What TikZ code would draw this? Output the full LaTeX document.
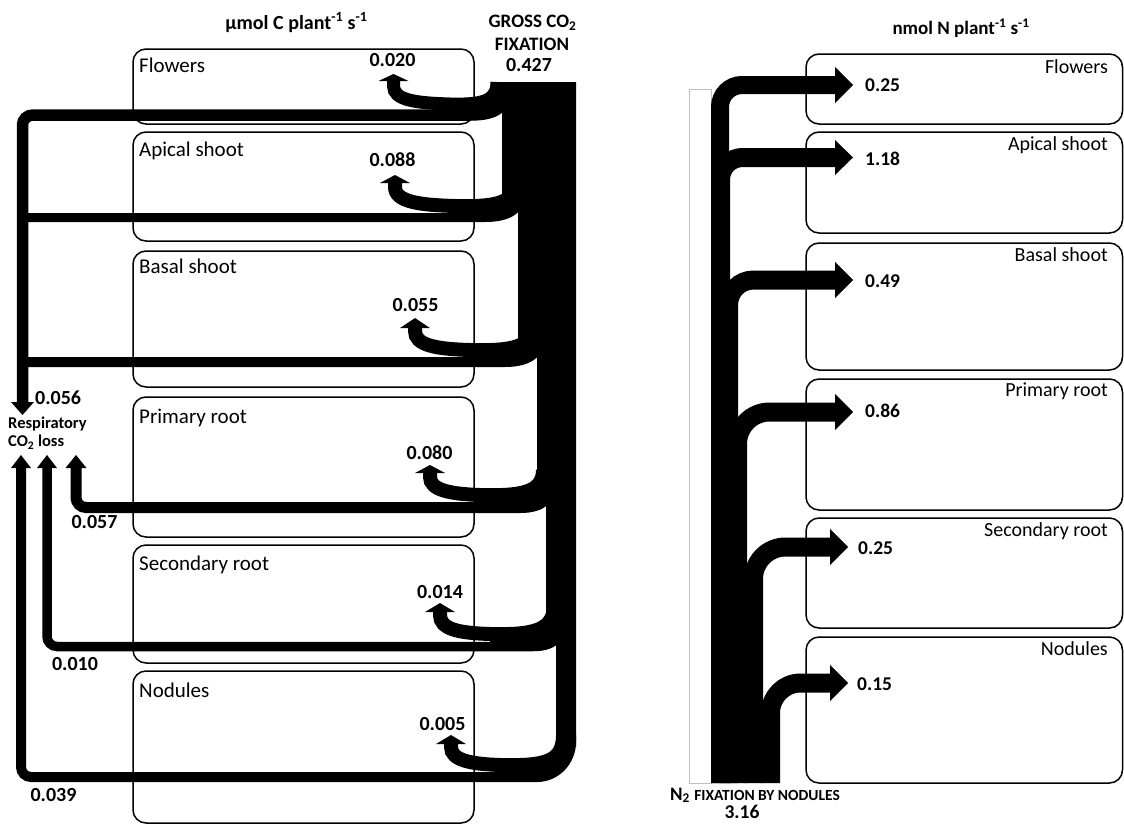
\documentclass[tikz,border=0pt]{standalone}
\usepackage{fontspec}
\setmainfont{Carlito}
\begin{document}
\begin{tikzpicture}[x=1pt,y=-1pt,
  box/.style={draw, line width=1.5pt, rounded corners=13pt, inner sep=0pt, outer sep=0pt, anchor=north west},
  lbl/.style={font=\fontsize{21}{25}\selectfont, inner sep=0pt, anchor=base west},
  rlbl/.style={font=\fontsize{20}{24}\selectfont, inner sep=0pt, anchor=base east},
  val/.style={font=\bfseries\fontsize{20}{24}\selectfont, inner sep=0pt, anchor=base},
  rval/.style={font=\bfseries\fontsize{19.5}{23}\selectfont, inner sep=0pt, anchor=base west},
  small/.style={font=\bfseries\fontsize{16.5}{20}\selectfont, inner sep=0pt, anchor=base west},
  ttl/.style={font=\bfseries\fontsize{19}{23}\selectfont, inner sep=0pt, anchor=base},
  fl/.style={line width=#1}
]
\useasboundingbox (0,0) rectangle (1124,825);
\clip (0,0) rectangle (1124,825);

% ---------------- LEFT PANEL: boxes ----------------
\node[box, minimum width=341pt, minimum height=75pt]  (lFl) at (133,49)  {};
\node[box, minimum width=341pt, minimum height=109pt] (lAp) at (133,132) {};
\node[box, minimum width=341pt, minimum height=136pt] (lBa) at (133,251) {};
\node[box, minimum width=341pt, minimum height=140pt] (lPr) at (133,397) {};
\node[box, minimum width=341pt, minimum height=118pt] (lSe) at (133,545) {};
\node[box, minimum width=341pt, minimum height=152pt] (lNo) at (133,671) {};

% trunk
\fill (502,82) -- (576,82) -- (576,747) -- (556,747) -- (556,637) -- (546,637) -- (546,500)
  -- (537,500) -- (537,343) -- (518,343) -- (518,197) -- (502,197) -- cycle;

% flowers
\draw[fl=13pt] (393.5,80) -- (393.5,86) .. controls (393.5,100) and (415,103) .. (450,104) .. controls (485,105) and (497,100) .. (497,82);
\fill (450,104) .. controls (485,105) and (497,100) .. (497,82) -- (507,86) .. controls (507,108) and (495,115) .. (470,115) -- (450,115) -- cycle;
\fill (378.5,81) -- (408.5,81) -- (393.5,74) -- cycle;
\draw[fl=11.5pt] (507,86) .. controls (507,108) and (495,115) .. (470,115) -- (33,115) .. controls (27,115) and (22.5,119.5) .. (22.5,125) -- (22.5,403);
\fill (11,402) -- (34,402) -- (22.5,415) -- cycle;

% apical shoot
\draw[fl=14pt] (395,182) -- (395,187) .. controls (395,202) and (420,205) .. (455,206) .. controls (495,207) and (514,203) .. (514,185);
\fill (455,206) .. controls (495,207) and (514,203) .. (514,185) -- (522,190) .. controls (522,210) and (508,217.5) .. (485,217.5) -- (455,217.5) -- cycle;
\fill (380,183) -- (410,183) -- (395,175) -- cycle;
\draw[fl=9pt] (522,190) .. controls (522,210) and (508,217.5) .. (485,217.5) -- (27,217.5);

% basal shoot
\draw[fl=14pt] (415,327) -- (415,331) .. controls (415,345) and (435,349) .. (470,350) .. controls (510,351) and (535,348) .. (535,322);
\fill (470,350) .. controls (510,351) and (535,348) .. (535,322) -- (543,328) .. controls (543,352) and (530,362) .. (505,362) -- (470,362) -- cycle;
\fill (400,328) -- (430,328) -- (415,318) -- cycle;
\draw[fl=10pt] (543,328) .. controls (543,352) and (530,362) .. (505,362) -- (27,362);

% primary root
\draw[fl=14pt] (430,472) -- (430,477) .. controls (430,490) and (450,494) .. (480,495) .. controls (520,496) and (543,493) .. (543,470);
\fill (480,495) .. controls (520,496) and (543,493) .. (543,470) -- (552,478) .. controls (552,498) and (543,507.5) .. (520,507.5) -- (480,507.5) -- cycle;
\fill (415,473) -- (445,473) -- (430,465) -- cycle;
\draw[fl=11pt] (552,478) .. controls (552,498) and (543,507.5) .. (520,507.5) -- (86,507.5) .. controls (80.5,507.5) and (76,503) .. (76,497.5) -- (76,467);
\fill (65.5,468) -- (86.5,468) -- (76,455) -- cycle;

% secondary root
\draw[fl=14pt] (440,611) -- (440,615) .. controls (440,629) and (458,633) .. (490,634) .. controls (532,635) and (554,631) .. (554,605);
\fill (490,634) .. controls (532,635) and (554,631) .. (554,605) -- (563,618) .. controls (563,638) and (553,646.5) .. (533,646.5) -- (490,646.5) -- cycle;
\fill (425,612) -- (455,612) -- (440,603) -- cycle;
\draw[fl=9.5pt] (563,618) .. controls (563,638) and (553,646.5) .. (533,646.5) -- (57,646.5) .. controls (51.5,646.5) and (47,642) .. (47,636.5) -- (47,467);
\fill (37,468) -- (57,468) -- (47,455) -- cycle;

% nodules
\draw[fl=14pt] (451,743) -- (451,747) .. controls (451,760) and (470,764) .. (500,765) .. controls (545,766) and (563,762) .. (563,735);
\fill (500,765) .. controls (545,766) and (563,762) .. (563,735) -- (571,735) -- (571,742) .. controls (571,761) and (556,777) .. (537,777) -- (500,777) -- cycle;
\fill (436,744) -- (466,744) -- (451,735) -- cycle;
\draw[fl=10pt] (571,735) -- (571,742) .. controls (571,761) and (556,777) .. (537,777) -- (31,777) .. controls (25.5,777) and (21,772.5) .. (21,767) -- (21,467);
\fill (11,468) -- (31,468) -- (21,455) -- cycle;

% left texts
\node[ttl, font=\bfseries\fontsize{20}{24}\selectfont] (lTitle) at (296.5,29) {µmol C plant\textsuperscript{-1} s\textsuperscript{-1}};
\node[ttl] (gross) at (532.5,27.3) {GROSS CO\textsubscript{2}};
\node[ttl] (fix) at (532,50) {FIXATION};
\node[val] (gval) at (529,71.7) {0.427};

\node[lbl] (tFl) at (139,72) {Flowers};
\node[lbl] (tAp) at (139,156) {Apical shoot};
\node[lbl] (tBa) at (139,273) {Basal shoot};
\node[lbl] (tPr) at (139,423) {Primary root};
\node[lbl] (tSe) at (139,570) {Secondary root};
\node[lbl] (tNo) at (139,697) {Nodules};

\node[val] (vFl) at (392.5,66.7) {0.020};
\node[val] (vAp) at (392.5,166.7) {0.088};
\node[val] (vBa) at (415.5,311.7) {0.055};
\node[val] (vPr) at (429.5,459.3) {0.080};
\node[val] (vSe) at (440,598.3) {0.014};
\node[val] (vNo) at (442.5,730) {0.005};

\node[val, anchor=base west] (r056) at (35,404.3) {0.056};
\node[small] (resp1) at (8,428.3) {Respiratory};
\node[small] (resp2) at (8,446.7) {CO\textsubscript{2} loss};
\node[val] (r057) at (94.5,528.3) {0.057};
\node[val] (r010) at (75,670) {0.010};
\node[val] (r039) at (53.5,801) {0.039};

% ---------------- RIGHT PANEL ----------------
\node[box, minimum width=316.5pt, minimum height=70pt]  (rFl) at (806,54)  {};
\node[box, minimum width=316.5pt, minimum height=101pt] (rAp) at (806,132) {};
\node[box, minimum width=316.5pt, minimum height=127pt] (rBa) at (806,243) {};
\node[box, minimum width=316.5pt, minimum height=131pt] (rPr) at (806,379) {};
\node[box, minimum width=316.5pt, minimum height=110pt] (rSe) at (806,518) {};
\node[box, minimum width=316.5pt, minimum height=146pt] (rNo) at (806,637) {};

\draw[black!25, line width=1pt] (689.5,89.5) rectangle (711,783);

\draw[fl=18pt, rounded corners=22pt] (720,783) -- (720,85) -- (836,85);
\fill (835,67) -- (853,85) -- (835,103) -- cycle;
\draw[fl=19pt, rounded corners=22pt] (720.5,783) -- (720.5,157.5) -- (836,157.5);
\fill (835,140) -- (853,157.5) -- (835,175) -- cycle;
\draw[fl=19pt, rounded corners=25pt] (728.5,783) -- (728.5,280) -- (836,280);
\fill (835,262) -- (853,280) -- (835,298) -- cycle;
\draw[fl=19pt, rounded corners=32pt] (737.5,783) -- (737.5,412) -- (836,412);
\fill (835,394) -- (853,412) -- (835,430) -- cycle;
\draw[fl=19pt, rounded corners=32pt] (753.5,783) -- (753.5,547) -- (831,547);
\fill (830,529) -- (848,547) -- (830,565) -- cycle;
\draw[fl=19pt, rounded corners=30pt] (770.5,783) -- (770.5,683) -- (831,683);
\fill (830,665) -- (848,683) -- (830,701) -- cycle;

\node[ttl] (rTitle) at (961,34) {nmol N plant\textsuperscript{-1} s\textsuperscript{-1}};

\node[rlbl] (uFl) at (1108,73) {Flowers};
\node[rlbl] (uAp) at (1108,150.7) {Apical shoot};
\node[rlbl] (uBa) at (1108,261.7) {Basal shoot};
\node[rlbl] (uPr) at (1108,396) {Primary root};
\node[rlbl] (uSe) at (1108,536) {Secondary root};
\node[rlbl] (uNo) at (1108,655) {Nodules};

\node[rval] (wFl) at (865,91.7) {0.25};
\node[rval] (wAp) at (865,165) {1.18};
\node[rval] (wBa) at (865,287.3) {0.49};
\node[rval] (wPr) at (865,417.3) {0.86};
\node[rval] (wSe) at (858,554) {0.25};
\node[rval] (wNo) at (857,690) {0.15};

\node[inner sep=0pt, anchor=base, font=\bfseries] (n2) at (755,800) {\fontsize{19}{23}\selectfont N\textsubscript{2} \fontsize{15.5}{19}\selectfont FIXATION BY NODULES};
\node[val, font=\bfseries\fontsize{19.5}{23}\selectfont] (n2v) at (742,818.3) {3.16};
\end{tikzpicture}
\end{document}
